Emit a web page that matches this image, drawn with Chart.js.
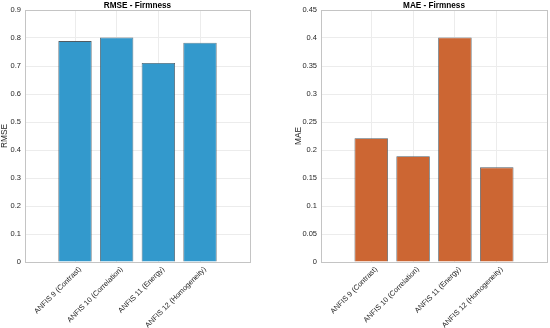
<!DOCTYPE html>
<html>
<head>
<meta charset="utf-8">
<script src="https://cdn.jsdelivr.net/npm/chart.js@4"></script>
<style>
html,body{margin:0;padding:0;background:#fff;}
#wrap{position:relative;width:550px;height:328px;}
.c{position:absolute;top:0;width:275px;height:328px;}
</style>
</head>
<body>
<div id="wrap">
<div class="c" style="left:0"><canvas id="c1"></canvas></div>
<div class="c" style="left:275px"><canvas id="c2"></canvas></div>
</div>
<script>
const categories = ["ANFIS 9 (Contrast)", "ANFIS 10 (Correlation)", "ANFIS 11 (Energy)", "ANFIS 12 (Homogeneity)"];
const categoryPositions = [1, 2, 3, 4];
const rmseValues = [0.789, 0.802, 0.711, 0.783];
const maeValues = [0.221, 0.189, 0.401, 0.169];
const rmseTicks = [0, 0.1, 0.2, 0.3, 0.4, 0.5, 0.6, 0.7, 0.8, 0.9];
const rmseTickLabels = ["0", "0.1", "0.2", "0.3", "0.4", "0.5", "0.6", "0.7", "0.8", "0.9"];
const maeTicks = [0, 0.05, 0.1, 0.15, 0.2, 0.25, 0.3, 0.35, 0.4, 0.45];
const maeTickLabels = ["0", "0.05", "0.1", "0.15", "0.2", "0.25", "0.3", "0.35", "0.4", "0.45"];

const boxPlugin = {
  id: 'box',
  afterDraw(chart, args, opts) {
    const a = chart.chartArea, ctx = chart.ctx;
    ctx.save();
    ctx.strokeStyle = '#c4c4c4';
    ctx.lineWidth = 1;
    ctx.strokeRect(Math.round(a.left) + 0.5, Math.round(a.top) + 0.5, Math.round(a.right - a.left), Math.round(a.bottom - a.top));
    ctx.fillStyle = '#000';
    ctx.font = 'bold 8.2px "Liberation Sans"';
    ctx.textAlign = 'center';
    ctx.textBaseline = 'middle';
    ctx.fillText(opts.text, (a.left + a.right) / 2, 5.5);
    ctx.restore();
  }
};

function makeChart(id, title, yTitle, values, ticks, tickLabels, color, yWidth, padRight, yTitlePad) {
  const data = values.map((v, i) => ({ x: categoryPositions[i], y: v }));
  return new Chart(document.getElementById(id), {
    type: 'bar',
    data: {
      datasets: [{
        data: data,
        backgroundColor: color,
        borderColor: '#4f5b63',
        borderWidth: 0.8,
        barPercentage: 0.8,
        categoryPercentage: 1.0
      }]
    },
    options: {
      responsive: true,
      maintainAspectRatio: false,
      animation: false,
      layout: { padding: { left: 0, right: padRight, top: 10, bottom: 0 } },
      plugins: {
        legend: { display: false },
        tooltip: { enabled: false },
        title: { display: false },
        box: { text: title }
      },
      scales: {
        x: {
          type: 'linear',
          offset: false,
          min: -0.2,
          max: 5.2,
          afterBuildTicks: (s) => { s.ticks = categoryPositions.map(v => ({ value: v })); },
          afterFit: (s) => { s.height = 66; },
          ticks: {
            callback: (v) => { const i = categoryPositions.indexOf(v); return i >= 0 ? categories[i] : ''; },
            minRotation: 45,
            maxRotation: 45,
            autoSkip: false,
            padding: 3,
            labelOffset: 5,
            color: '#262626',
            font: { family: 'Liberation Sans', size: 7.4 }
          },
          grid: { color: '#ececec', drawTicks: false, tickLength: 0, offset: false },
          border: { display: false }
        },
        y: {
          min: 0,
          max: ticks[ticks.length - 1],
          afterBuildTicks: (s) => { s.ticks = ticks.map(v => ({ value: v })); },
          afterFit: (s) => { s.width = yWidth; },
          ticks: {
            callback: (v) => { const i = ticks.indexOf(v); return i >= 0 ? tickLabels[i] : ''; },
            padding: 4,
            color: '#262626',
            font: { family: 'Liberation Sans', size: 7.5 }
          },
          title: {
            display: true,
            text: yTitle,
            color: '#262626',
            font: { family: 'Liberation Sans', size: 8.3 },
            padding: { top: yTitlePad, bottom: 0 }
          },
          grid: { color: '#ececec', drawTicks: false, tickLength: 0 },
          border: { display: false }
        }
      }
    },
    plugins: [boxPlugin]
  });
}

makeChart('c1', 'RMSE - Firmness', 'RMSE', rmseValues, rmseTicks, rmseTickLabels, '#3399cc', 25, 25, 0);
makeChart('c2', 'MAE - Firmness', 'MAE', maeValues, maeTicks, maeTickLabels, '#cc6633', 46, 3, 19);
</script>
</body>
</html>
